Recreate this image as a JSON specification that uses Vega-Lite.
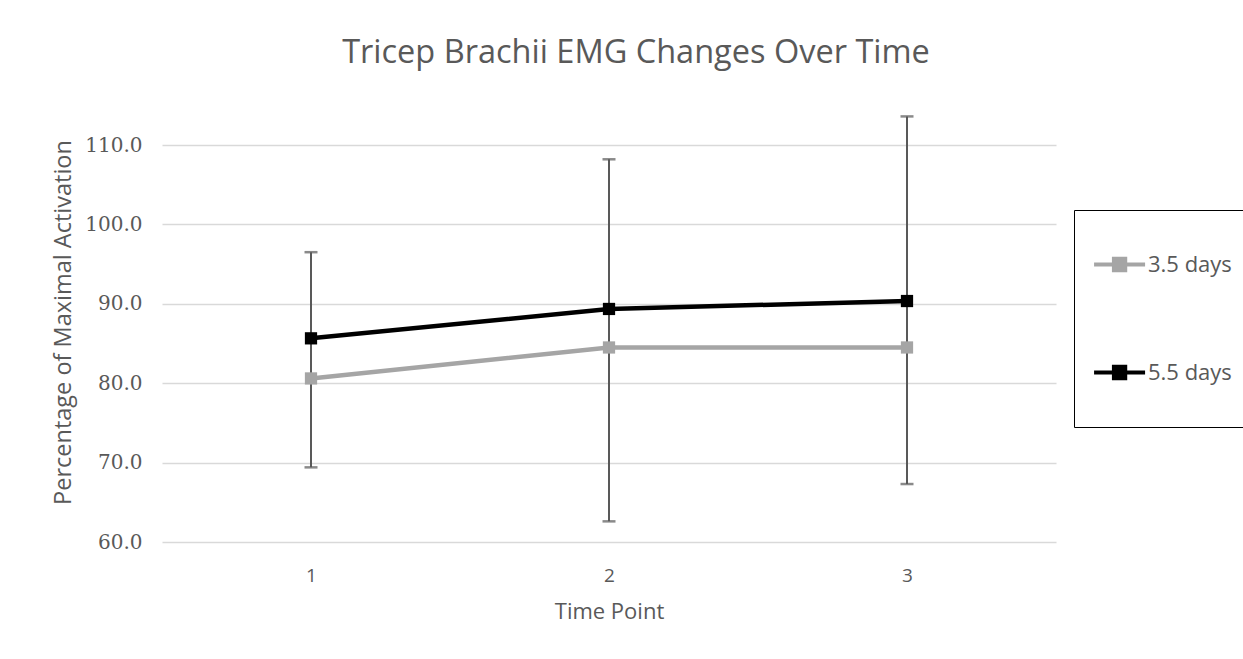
{
  "$schema": "https://vega.github.io/schema/vega-lite/v6.json",
  "width": 894,
  "height": 397,
  "autosize": {"type": "none"},
  "padding": {"left": 162, "top": 145, "right": 187, "bottom": 117},
  "background": "#ffffff",
  "config": {
    "view": {"stroke": null},
    "font": "Open Sans"
  },
  "title": {
    "text": "Tricep Brachii EMG Changes Over Time",
    "font": "Open Sans",
    "fontSize": 32.5,
    "fontWeight": "normal",
    "color": "#595959",
    "anchor": "middle",
    "baseline": "alphabetic",
    "offset": 20,
    "dx": 27
  },
  "datasets": {
    "main": [
      {"time": "1", "series": "3.5 days", "value": 80.6},
      {"time": "2", "series": "3.5 days", "value": 84.5},
      {"time": "3", "series": "3.5 days", "value": 84.5},
      {"time": "1", "series": "5.5 days", "value": 85.65},
      {"time": "2", "series": "5.5 days", "value": 89.35},
      {"time": "3", "series": "5.5 days", "value": 90.35}
    ],
    "errs": [
      {"time": "1", "low": 69.4, "high": 96.5},
      {"time": "2", "low": 62.6, "high": 108.2},
      {"time": "3", "low": 67.3, "high": 113.6}
    ]
  },
  "encoding": {
    "x": {
      "field": "time",
      "type": "ordinal",
      "scale": {"type": "point", "padding": 0.5},
      "axis": {
        "title": "Time Point",
        "labelAngle": 0,
        "labelFont": "Open Sans",
        "labelFontSize": 19,
        "labelColor": "#595959",
        "labelPadding": 24,
        "titleFont": "Open Sans",
        "titleFontSize": 22,
        "titleFontWeight": "normal",
        "titleColor": "#595959",
        "titlePadding": 16,
        "domain": false,
        "ticks": false,
        "grid": false
      }
    }
  },
  "layer": [
    {
      "data": {"name": "errs"},
      "mark": {"type": "rule", "color": "#595959", "strokeWidth": 2},
      "encoding": {
        "y": {
          "field": "low",
          "type": "quantitative",
          "scale": {"domain": [60, 110], "nice": false, "zero": false},
          "axis": {
            "title": "Percentage of Maximal Activation",
            "values": [60, 70, 80, 90, 100, 110],
            "format": ".1f",
            "labelFont": "DejaVu Serif",
            "labelFontSize": 20,
            "labelColor": "#595959",
            "labelPadding": 20,
            "titleFont": "Open Sans",
            "titleFontSize": 23.5,
            "titleFontWeight": "normal",
            "titleColor": "#595959",
            "titleX": -99,
            "titleY": 177,
            "titleAngle": -90,
            "titleAlign": "center",
            "titleBaseline": "middle",
            "domain": false,
            "ticks": false,
            "gridColor": "#D9D9D9",
            "gridWidth": 1.5
          }
        },
        "y2": {"field": "high"}
      }
    },
    {
      "data": {"name": "errs"},
      "mark": {"type": "tick", "color": "#595959", "size": 13, "thickness": 2.5, "orient": "horizontal"},
      "encoding": {"y": {"field": "low", "type": "quantitative"}}
    },
    {
      "data": {"name": "errs"},
      "mark": {"type": "tick", "color": "#595959", "size": 13, "thickness": 2.5, "orient": "horizontal"},
      "encoding": {"y": {"field": "high", "type": "quantitative"}}
    },
    {
      "data": {"name": "main"},
      "mark": {"type": "line", "strokeWidth": 4.5},
      "encoding": {
        "y": {"field": "value", "type": "quantitative"},
        "color": {
          "field": "series",
          "type": "nominal",
          "scale": {"domain": ["3.5 days", "5.5 days"], "range": ["#A5A5A5", "#000000"]},
          "legend": {
            "title": " ",
            "titleOrient": "bottom",
            "titleFontSize": 14,
            "titlePadding": 0,
            "orient": "none",
            "legendX": 912,
            "legendY": 65,
            "padding": 29,
            "strokeColor": "#000000",
            "symbolType": "M-1.35,-0.08H0.65V0.08H-1.35ZM-0.65,-0.3H-0.05V0.3H-0.65Z",
            "symbolSize": 2601,
            "symbolStrokeWidth": 0,
            "symbolOpacity": 1,
            "rowPadding": 71,
            "labelFont": "Open Sans",
            "labelFontSize": 22,
            "labelColor": "#595959",
            "labelOffset": -6,
            "encode": {
              "symbols": {
                "update": {
                  "fill": {"scale": "color", "field": "value"},
                  "stroke": {"value": "transparent"}
                }
              }
            }
          }
        }
      }
    },
    {
      "data": {"name": "main"},
      "mark": {"type": "point", "shape": "square", "filled": true, "opacity": 1, "size": 150},
      "encoding": {
        "y": {"field": "value", "type": "quantitative"},
        "color": {"field": "series", "type": "nominal"}
      }
    }
  ]
}
